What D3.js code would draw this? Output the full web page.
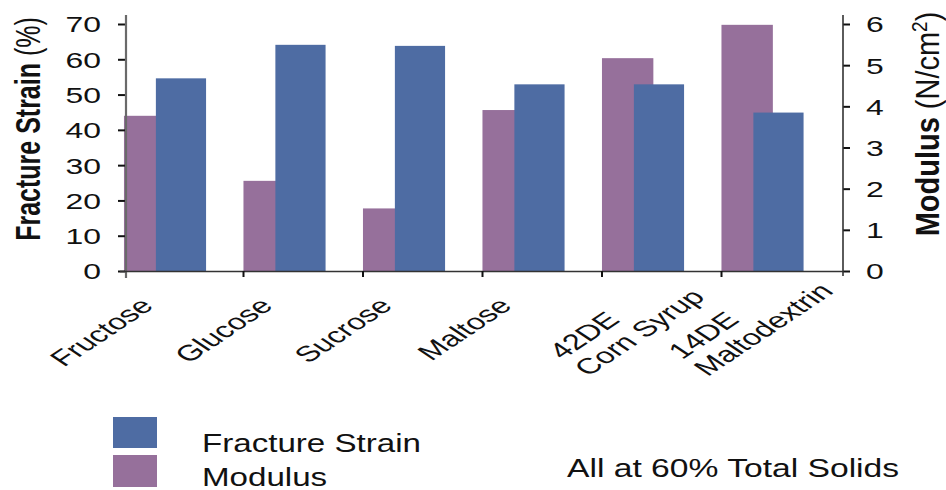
<!DOCTYPE html>
<html>
<head>
<meta charset="utf-8">
<script src="https://cdn.jsdelivr.net/npm/d3@7"></script>
<style>
  html, body { margin: 0; padding: 0; background: #ffffff; }
  svg { display: block; }
  text { font-family: "Liberation Sans", Arial, sans-serif; fill: #111; }
</style>
</head>
<body>
<div id="chart"></div>
<script>
// ---- data ----
const categories = ["Fructose", "Glucose", "Sucrose", "Maltose", "42DE\nCorn Syrup", "14DE\nMaltodextrin"];
const fractureStrain = [54.6, 64.1, 63.8, 52.9, 52.9, 44.9];   // %
const modulus = [3.77, 2.19, 1.52, 3.91, 5.17, 5.98];           // N/cm^2
const strainTicks = [0, 10, 20, 30, 40, 50, 60, 70];
const modulusTicks = [0, 1, 2, 3, 4, 5, 6];
const seriesNames = ["Fracture Strain", "Modulus"];
const note = "All at 60% Total Solids";

// ---- layout ----
const W = 946, H = 490;
const plotL = 126, plotR = 843, plotT = 24, plotB = 271;
const colStrain = "#4e6ca3", colModulus = "#96709b";
const tickFont = 22, tickStretch = 1.45;

const svg = d3.select("#chart").append("svg").attr("width", W).attr("height", H);

const x = d3.scaleBand().domain(categories).range([plotL, plotR]).paddingInner(0).paddingOuter(0);
const yL = d3.scaleLinear().domain([0, 70]).range([plotB, plotT]);
const yR = d3.scaleLinear().domain([0, 6]).range([plotB, plotT]);
const bw = x.bandwidth();

// ---- bars: modulus first (behind), strain on top ----
svg.append("g").selectAll("rect").data(categories).join("rect")
  .attr("x", d => x(d) - 0.017 * bw)
  .attr("width", 0.43 * bw)
  .attr("y", (d, i) => yR(modulus[i]))
  .attr("height", (d, i) => yR(0) - yR(modulus[i]))
  .attr("fill", colModulus);

svg.append("g").selectAll("rect").data(categories).join("rect")
  .attr("x", d => x(d) + 0.25 * bw)
  .attr("width", 0.42 * bw)
  .attr("y", (d, i) => yL(fractureStrain[i]))
  .attr("height", (d, i) => yL(0) - yL(fractureStrain[i]))
  .attr("fill", colStrain);

// ---- left axis ----
const gL = svg.append("g").attr("transform", `translate(${plotL},0)`)
  .call(d3.axisLeft(yL).tickValues(strainTicks).tickSize(8).tickFormat(d3.format("d")));
gL.select(".domain").remove();
gL.selectAll(".tick line").attr("stroke", "#111").attr("stroke-width", 2);
gL.selectAll(".tick text")
  .attr("font-size", tickFont).attr("font-family", "Liberation Sans, Arial, sans-serif")
  .attr("fill", "#111")
  .attr("x", -25 / tickStretch).attr("dy", "0.36em")
  .attr("transform", `scale(${tickStretch},1)`);
svg.append("line").attr("x1", plotL).attr("x2", plotL).attr("y1", 15).attr("y2", 278)
  .attr("stroke", "#6a6a6a").attr("stroke-width", 2.2);

// ---- right axis ----
const gR = svg.append("g").attr("transform", `translate(${plotR},0)`)
  .call(d3.axisRight(yR).tickValues(modulusTicks).tickSize(7).tickFormat(d3.format("d")));
gR.select(".domain").remove();
gR.selectAll(".tick line").attr("stroke", "#111").attr("stroke-width", 2);
gR.selectAll(".tick text")
  .attr("font-size", tickFont).attr("font-family", "Liberation Sans, Arial, sans-serif")
  .attr("fill", "#111")
  .attr("x", 23 / tickStretch).attr("dy", "0.36em")
  .attr("text-anchor", "start")
  .attr("transform", `scale(${tickStretch},1)`);
svg.append("line").attr("x1", plotR).attr("x2", plotR).attr("y1", 15).attr("y2", 276)
  .attr("stroke", "#333").attr("stroke-width", 1.6);

// ---- bottom axis ----
svg.append("line").attr("x1", plotL - 6).attr("x2", plotR).attr("y1", plotB + 0.5).attr("y2", plotB + 0.5)
  .attr("stroke", "#333").attr("stroke-width", 1.4);
const bounds = categories.slice(1).map(c => x(c));
svg.append("g").selectAll("line").data(bounds).join("line")
  .attr("x1", d => d - 2).attr("x2", d => d - 2)
  .attr("y1", plotB).attr("y2", plotB + 6)
  .attr("stroke", "#111").attr("stroke-width", 2);

// ---- category labels (rotated, horizontally stretched) ----
const catFont = 22, catStretch = 1.5, lineH = 24;
categories.forEach(c => {
  const lines = c.split("\n");
  const cx = x(c) + bw / 2;
  if (lines.length === 1) {
    svg.append("text")
      .attr("transform", `translate(${cx - 31},307) scale(${catStretch},1) rotate(-45)`)
      .attr("text-anchor", "end").attr("font-size", catFont).text(lines[0]);
  } else {
    const g = svg.append("g")
      .attr("transform", `translate(${cx - 101},360) scale(${catStretch},1) rotate(-45)`);
    lines.forEach((ln, j) => {
      g.append("text").attr("x", 0).attr("y", j * lineH)
        .attr("text-anchor", "start").attr("font-size", catFont).text(ln);
    });
  }
});

// ---- axis titles ----
const tL = svg.append("text")
  .attr("transform", `translate(40,129) scale(1.42,1) rotate(-90)`)
  .attr("text-anchor", "middle").attr("font-size", 25);
tL.append("tspan").attr("font-weight", "bold").text("Fracture Strain");
tL.append("tspan").text(" (%)");

const tR = svg.append("text")
  .attr("transform", `translate(939,124) scale(1.12,1) rotate(-90)`)
  .attr("text-anchor", "middle").attr("font-size", 29);
tR.append("tspan").attr("font-weight", "bold").text("Modulus");
tR.append("tspan").text(" (N/cm");
tR.append("tspan").attr("font-size", 19).attr("dy", -11).text("2");
tR.append("tspan").attr("dy", 11).text(")");

// ---- legend ----
const legFont = 26.5, legStretch = 1.25;
const legend = [
  { name: seriesNames[0], color: colStrain, ry: 417, rh: 31, ty: 452 },
  { name: seriesNames[1], color: colModulus, ry: 455, rh: 32, ty: 486 }
];
legend.forEach(l => {
  svg.append("rect").attr("x", 113).attr("y", l.ry).attr("width", 44).attr("height", l.rh).attr("fill", l.color);
  svg.append("text").attr("transform", `translate(202,${l.ty}) scale(${legStretch},1)`)
    .attr("font-size", legFont).text(l.name);
});
svg.append("text").attr("transform", `translate(567,477) scale(1.27,1)`)
  .attr("font-size", legFont).text(note);
</script>
</body>
</html>
